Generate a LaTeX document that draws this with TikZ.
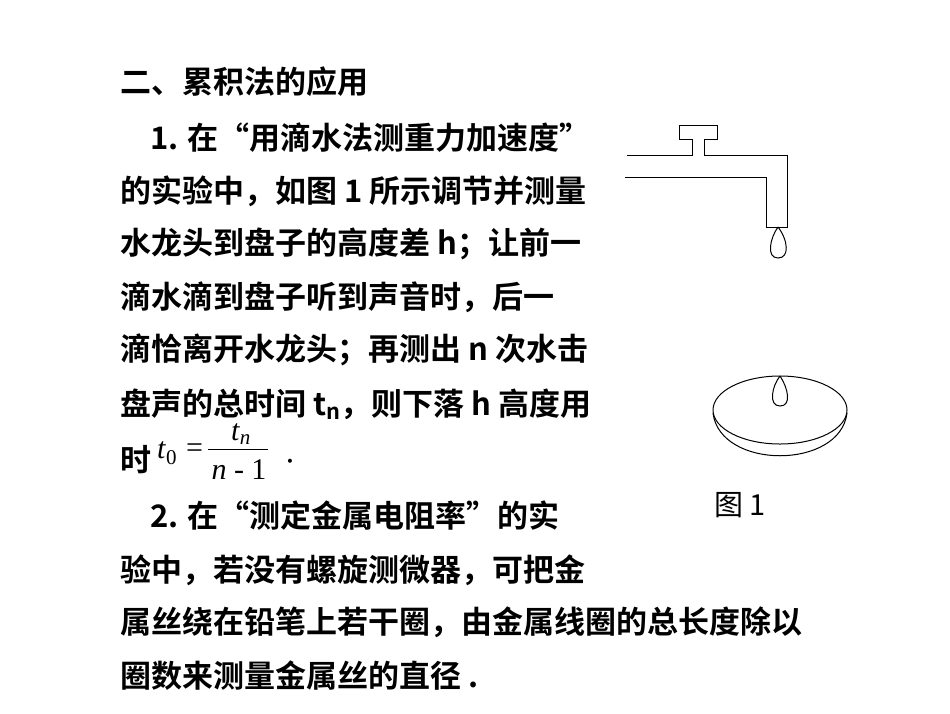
\documentclass[tikz,border=0pt]{standalone}
\usepackage{fontspec}
\newfontfamily\cjk{Noto Sans CJK SC}
\newfontfamily\cjkb{Noto Sans CJK SC Bold}
\setmainfont{Liberation Serif}
\begin{document}
\begin{tikzpicture}[x=1pt,y=-1pt,
  line/.style={anchor=west,inner sep=0pt,font=\cjkb\fontsize{31}{31}\selectfont},
  mth/.style={inner sep=0pt,font=\fontsize{30}{30}\selectfont},
  pipe/.style={line width=1pt}]
\useasboundingbox (0,0) rectangle (950,713);
\node[line] (l0) at (120,82) {二、累积法的应用};
\node[line] (l1) at (150,138) {1. 在“用滴水法测重力加速度”};
\node[line] (l2) at (120,191) {的实验中，如图 1 所示调节并测量};
\node[line] (l3) at (120,244) {水龙头到盘子的高度差 h；让前一};
\node[line] (l4) at (120,297) {滴水滴到盘子听到声音时，后一};
\node[line] (l5) at (120,350) {滴恰离开水龙头；再测出 n 次水击};
\node[line] (l6) at (120,404) {盘声的总时间 t\textsubscript{n}，则下落 h 高度用};
\node[line] (l7) at (120,460) {时};
\node[mth,anchor=west] (t0) at (157,453) {\textit{t}\textsubscript{0}};
\node[mth,anchor=west] (eq) at (186,451) {=};
\node[mth] (num) at (241,434) {\textit{t}\textsubscript{\textit{n}}};
\node[mth] (den) at (239,470) {\textit{n} - 1};
\draw[line width=0.6pt] (208,449) -- (268,449);
\node[anchor=center,inner sep=0pt,font=\fontsize{34}{34}\selectfont] (dot) at (290,466) {·};
\node[line] (l8) at (150,516) {2. 在“测定金属电阻率”的实};
\node[line] (l9) at (120,570) {验中，若没有螺旋测微器，可把金};
\node[line] (l10) at (120,622) {属丝绕在铅笔上若干圈，由金属线圈的总长度除以};
\node[line] (l11) at (120,676) {圈数来测量金属丝的直径 .};
% faucet
\draw[pipe] (627,155) -- (692,155) -- (692,139) -- (679,139) -- (679,125) -- (717,125)
  -- (717,139) -- (704,139) -- (704,155) -- (787,155) -- (787,227) -- (766,227)
  -- (766,177) -- (625,177);
\draw[pipe] (778,227) .. controls (770,238) and (766,258) .. (778,258)
  .. controls (790,258) and (788,240) .. (778,227);
% bowl
\draw[pipe] (780,410) ellipse [x radius=67, y radius=34];
\draw[pipe] (713,413) .. controls (720,470) and (840,470) .. (847,413);
\draw[pipe] (780,376) .. controls (772,386) and (768,406) .. (780,406)
  .. controls (792,406) and (788,388) .. (780,376);
\node[anchor=center,inner sep=0pt,font=\cjk\fontsize{29}{29}\selectfont] (cap) at (740,505) {图 1};
\end{tikzpicture}
\end{document}
